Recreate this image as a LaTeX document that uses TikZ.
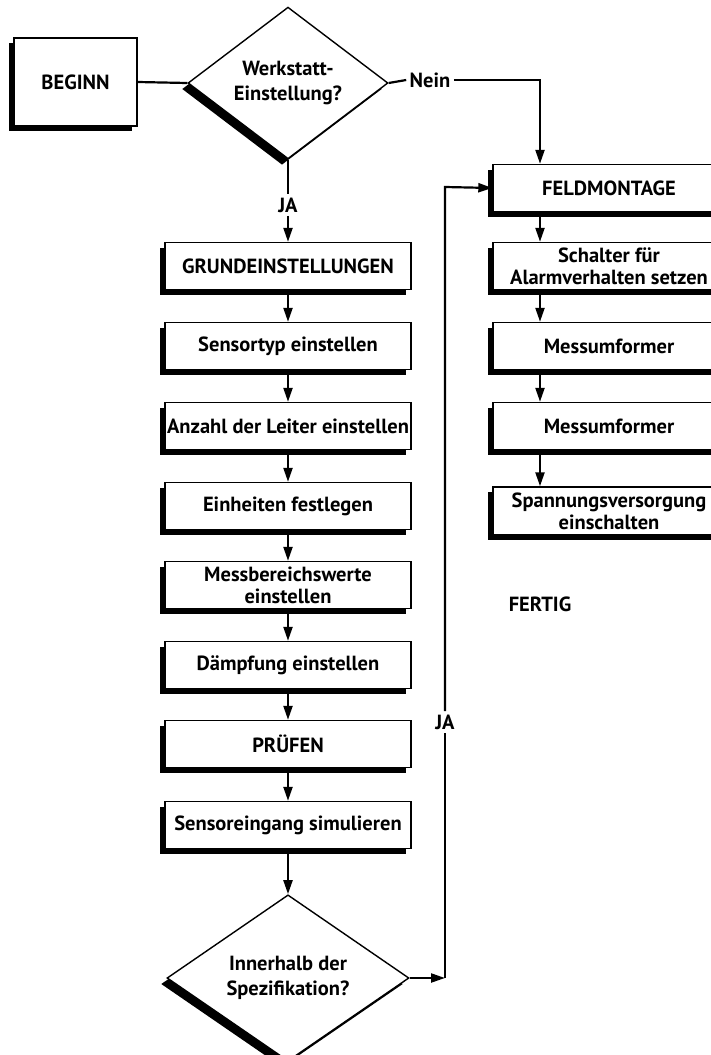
\documentclass[tikz,border=0pt]{standalone}
\usepackage{fontspec}
\setmainfont{PT Sans}
\usetikzlibrary{shapes.geometric,shadows,arrows.meta}
\begin{document}
\begin{tikzpicture}[x=1pt,y=-1pt,
  font=\bfseries\fontsize{20.5}{22}\selectfont,
  shade/.style={drop shadow={shadow xshift=-5pt,shadow yshift=-5pt,opacity=1,fill=black}},
  box/.style={draw,line width=1.4pt,fill=white,minimum height=47pt,inner sep=1pt,align=center,shade},
  leftbox/.style={box,minimum width=246pt},
  rightbox/.style={box,minimum width=232pt},
  decision/.style={diamond,draw,line width=1.4pt,fill=white,inner sep=0pt,align=center,
    font=\bfseries\fontsize{20.5}{25}\selectfont,
    drop shadow={shadow xshift=-6pt,shadow yshift=-6pt,opacity=1,fill=black}},
  flow/.style={line width=2.2pt,-{Triangle[length=14pt,width=9pt]}},
  plain/.style={line width=2.2pt}]
\useasboundingbox (0,0) rectangle (710,1055);

% start
\node[box,minimum width=123pt,minimum height=88pt] (beginn) at (75.5,82) {BEGINN};
\node[decision,minimum width=200pt,minimum height=148pt] (werk) at (288,83) {Werkstatt-\\Einstellung?};
\node (nein) at (430,80) {Nein};
\node (ja1) at (288,205) {JA};

% left column
\node[leftbox] (grund) at (288,266) {GRUNDEINSTELLUNGEN};
\node[leftbox] (typ) at (288,346) {Sensortyp einstellen};
\node[leftbox] (leiter) at (288,426) {Anzahl der Leiter einstellen};
\node[leftbox] (einh) at (288,506) {Einheiten festlegen};
\node[leftbox] (bereich) at (288,585) {Messbereichswerte\\einstellen};
\node[leftbox] (daempf) at (288,665) {Dämpfung einstellen};
\node[leftbox] (pruef) at (288,744) {PRÜFEN};
\node[leftbox] (sim) at (288,825) {Sensoreingang simulieren};
\node[decision,minimum width=242pt,minimum height=140pt] (spez) at (288,978) {Innerhalb der\\Spezifikation?};
\node (ja2) at (445,722) {JA};
\coordinate (jx) at (445,187);

% right column
\coordinate (rx) at (540,0);
\node[rightbox] (feld) at (609,188) {FELDMONTAGE};
\node[rightbox] (alarm) at (609,266) {Schalter für\\Alarmverhalten setzen};
\node[rightbox] (mu1) at (609,346) {Messumformer};
\node[rightbox] (mu2) at (609,426) {Messumformer};
\node[rightbox,minimum height=48pt] (spann) at (609,511) {Spannungsversorgung\\einschalten};
\node (fertig) at (540,604) {FERTIG};

% connectors
\draw[plain] (beginn.east) -- (werk.west);
\draw[plain] (werk.east) -- (nein.west);
\draw[flow] (nein.east) -| (feld.north -| rx);
\draw[plain] (werk.south) -- (ja1.north);
\draw[flow] (ja1.south) -- (grund.north);
\draw[flow] (grund) -- (typ);
\draw[flow] (typ) -- (leiter);
\draw[flow] (leiter) -- (einh);
\draw[flow] (einh) -- (bereich);
\draw[flow] (bereich) -- (daempf);
\draw[flow] (daempf) -- (pruef);
\draw[flow] (pruef) -- (sim);
\draw[flow] (sim) -- (spez);
\draw[flow] (spez.east) -- (spez.east -| jx);
\draw[plain] (spez.east -| jx) -- (ja2.south);
\draw[flow] (ja2.north) -- (jx) -- (feld.west);
\draw[flow] (feld.south -| rx) -- (alarm.north -| rx);
\draw[flow] (alarm.south -| rx) -- (mu1.north -| rx);
\draw[flow] (mu1.south -| rx) -- (mu2.north -| rx);
\draw[flow] (mu2.south -| rx) -- (spann.north -| rx);
\end{tikzpicture}
\end{document}
